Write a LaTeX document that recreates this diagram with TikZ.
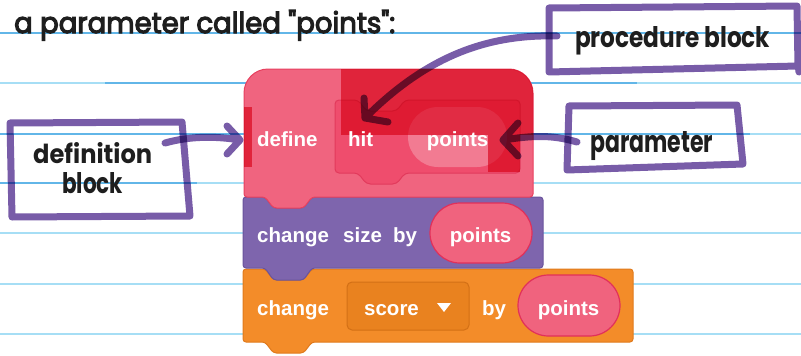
\documentclass[tikz,border=0pt]{standalone}
\usepackage{graphicx}
\usepackage{fontspec}
\setmainfont{Liberation Sans}
\newfontfamily\handfont{Poppins}[FakeBold=4]
\newfontfamily\handlab{Poppins}
\definecolor{lineA}{HTML}{A6DEF5}
\definecolor{lineB}{HTML}{62B6E8}
\definecolor{pinkb}{HTML}{F0647F}
\definecolor{pinkedge}{HTML}{E8405F}
\definecolor{innerb}{HTML}{EF4D6D}
\definecolor{inneredge}{HTML}{E23A5C}
\definecolor{ovlc}{RGB}{238,92,120}
\definecolor{purpb}{HTML}{7E65AD}
\definecolor{purpedge}{HTML}{6A549C}
\definecolor{orab}{HTML}{F38C29}
\definecolor{oraedge}{HTML}{E07A1C}
\definecolor{dropb}{HTML}{E9821F}
\definecolor{dropedge}{HTML}{D37016}
\definecolor{ovalb}{HTML}{F0637E}
\definecolor{ovaledge}{HTML}{E1305A}
\definecolor{callp}{HTML}{785CA8}
\definecolor{inkc}{HTML}{1E1E1E}
\tikzset{
  ruled/.style={line width=2pt},
  blocktxt/.style={text=white, font=\fontsize{20.5}{24}\selectfont\bfseries, inner sep=0pt, anchor=base west},
  blocktxtc/.style={blocktxt, anchor=base},
  oval/.style={fill=ovalb, draw=ovaledge, line width=1.2pt},
  callbox/.style={draw=callp, line width=7pt, line join=round, line cap=round},
  callarrow/.style={draw=callp, line width=7pt, line join=round, line cap=round},
  handtxt/.style={text=inkc, inner sep=0pt, anchor=base west},
}
\begin{document}
\begin{tikzpicture}[x=1pt,y=-1pt]
\useasboundingbox (0,0) rectangle (801,356);
\fill[white] (0,0) rectangle (801,356);
% ruled lines
\draw[ruled, lineB] (0,33) -- (801,33);
\draw[ruled, lineA] (0,83) -- (105,83);
\draw[ruled, lineB] (105,83) -- (637,83);
\draw[ruled, lineA] (637,83) -- (801,83);
\draw[ruled, lineB] (0,134) -- (750,134);
\draw[ruled, lineA] (750,134) -- (801,134);
\draw[ruled, lineB] (0,183) -- (197,183);
\draw[ruled, lineA] (197,183) -- (801,183);
\draw[ruled, lineA] (0,233) -- (801,233);
\draw[ruled, lineA] (0,284) -- (801,284);
\draw[ruled, lineA] (0,334) -- (801,334);

% title
\node[handtxt] (title) at (14,33) {\resizebox{381pt}{23pt}{\handfont a parameter called "points":}};

% orange block
\filldraw[fill=orab, draw=oraedge, line width=1pt, rounded corners=3pt]
  (243,305) -- (243,269) -- (265,269) -- (273.5,280) -- (303.5,280) -- (312,269) -- (633,269)
  -- (633,342) -- (312,342) -- (303.5,353) -- (273.5,353) -- (265,342) -- (243,342) -- cycle;
\filldraw[fill=dropb, draw=dropedge, line width=1pt, rounded corners=5pt] (347,282) rectangle (469,330);
\draw[oval, rounded corners=30.5pt] (518,275) rectangle (620,336);

% purple block
\filldraw[fill=purpb, draw=purpedge, line width=1pt, rounded corners=3pt]
  (243,232) -- (243,197) -- (265,197) -- (273.5,208) -- (303.5,208) -- (312,197) -- (543,197)
  -- (543,268) -- (312,268) -- (303.5,280) -- (273.5,280) -- (265,268) -- (243,268) -- cycle;
\draw[oval, rounded corners=30pt] (430,203) rectangle (532,263);

% define hat block
\filldraw[fill=pinkb, draw=pinkedge, line width=1pt, save path=\hatp]
  [rounded corners=24pt] (244,130) -- (244,69) -- (533,69) -- (533,130)
  [rounded corners=3pt] -- (533,197) -- (312,197) -- (303.5,208) -- (273.5,208) -- (265,197) -- (244,197) -- cycle;
% inner procedure block
\filldraw[fill=innerb, draw=inneredge, line width=1pt, rounded corners=4pt]
  (335,136) -- (335,100) -- (358,100) -- (366.5,111) -- (396.5,111) -- (405,100) -- (520,100)
  -- (520,173) -- (405,173) -- (396.5,184) -- (366.5,184) -- (358,173) -- (335,173) -- cycle;
\fill[pinkb!85!white, rounded corners=30pt] (408,107) rectangle (507,167);
% highlight overlay
\begin{scope}[blend mode=multiply]
  \clip[use path=\hatp];
  \fill[ovlc] (341,60) rectangle (540,135);
  \fill[ovlc] (488,135) rectangle (520,172);
  \fill[ovlc] (244,107) rectangle (252,167);
\end{scope}

% block texts
\node[blocktxt] (tdefine) at (257,146) {define};
\node[blocktxt] (thit) at (348,146) {hit};
\node[blocktxtc] (tpts1) at (457.5,146) {points};
\node[blocktxt] (tch1) at (257,242) {change};
\node[blocktxt] (tsize) at (343,242) {size};
\node[blocktxt] (tby1) at (393,242) {by};
\node[blocktxtc] (tpts2) at (480.5,242) {points};
\node[blocktxt] (tch2) at (257,315) {change};
\node[blocktxt] (tscore) at (364,315) {score};
\fill[white] (437,303) -- (451,303) -- (444,312) -- cycle;
\node[blocktxt] (tby2) at (482,315) {by};
\node[blocktxtc] (tpts3) at (568.5,315) {points};

% callouts
\coordinate (procA) at (557,36);
\coordinate (procT) at (365,118);
\coordinate (parA) at (577,142);
\coordinate (parT) at (503,140);
\coordinate (defA) at (165,143);
\coordinate (defT) at (240,140);
\begin{scope}[blend mode=multiply]
  \draw[callbox] (549,8) -- (797,6) -- (798,66) -- (549,72) -- cycle (798,64) -- (799,72);
  \draw[callbox] (569,106) -- (737,105) -- (743,164) -- (567,170) -- cycle;
  \draw[callbox] (10,123) -- (182,122) -- (190,216) -- (12,217) -- cycle;
  \draw[callarrow] (procA) .. controls (485,34) and (425,58) .. (procT) -- (364,98) (procT) -- (388,122);
  \draw[callarrow] (parA) .. controls (550,134) and (530,136) .. (parT) -- (518,123) (parT) -- (518,156);
  \draw[callarrow] (defA) .. controls (190,136) and (215,136) .. (defT) -- (227,126) (defT) -- (227,154);
\end{scope}
\node[handtxt] (procL) at (575,48) {\resizebox{195pt}{21pt}{\handlab\bfseries procedure block}};
\node[handtxt] (parL) at (590,152) {\resizebox{123pt}{21pt}{\handlab\bfseries parameter}};
\node[handtxt] (defL1) at (33,163) {\resizebox{119pt}{21pt}{\handlab\bfseries definition}};
\node[handtxt] (defL2) at (62,193) {\resizebox{61pt}{21pt}{\handlab\bfseries block}};
\end{tikzpicture}
\end{document}
